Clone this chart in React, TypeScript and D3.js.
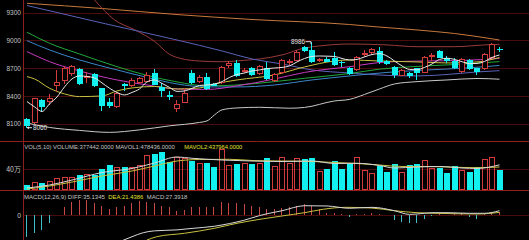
import React from "react";
import * as d3 from "d3";

const W = 529;
const H = 240;

// ---- candle data (64 bars) ----
const opens = [8155,8110,8359,8338,8510,8565,8635,8695,8597,8640,8485,8340,8281,8530,8505,8540,8556,8646,8500,8413,8259,8330,8652,8556,8610,8530,8540,8728,8760,8663,8706,8639,8706,8563,8646,8765,8782,8925,8897,8775,8797,8808,8765,8706,8682,8851,8862,8889,8778,8717,8620,8646,8699,8652,8825,8889,8808,8782,8657,8789,8699,8692,8808,8905];
const highs = [8160,8380,8370,8420,8682,8725,8740,8705,8663,8650,8490,8375,8440,8540,8590,8610,8663,8690,8540,8450,8359,8485,8680,8625,8650,8540,8725,8780,8790,8700,8715,8735,8770,8650,8800,8800,8897,8940,8986,8810,8820,8880,8780,8715,8830,8900,8915,8932,8790,8725,8690,8655,8705,8830,8860,8895,8830,8810,8805,8795,8705,8860,8970,8930];
const lows = [8060,8100,8233,8305,8448,8535,8620,8520,8540,8495,8235,8270,8275,8460,8500,8530,8550,8515,8395,8360,8233,8325,8530,8545,8465,8505,8535,8700,8610,8645,8620,8630,8575,8555,8640,8740,8775,8880,8760,8765,8765,8725,8715,8630,8675,8820,8855,8750,8740,8592,8615,8600,8574,8645,8780,8805,8760,8690,8650,8680,8628,8685,8800,8880];
const closes = [8080,8378,8287,8382,8556,8700,8720,8530,8617,8510,8295,8295,8431,8508,8574,8595,8628,8520,8460,8395,8313,8431,8539,8610,8475,8513,8717,8754,8617,8682,8628,8728,8585,8639,8789,8778,8879,8890,8771,8795,8771,8735,8755,8639,8825,8862,8904,8765,8746,8628,8682,8617,8652,8825,8843,8814,8782,8700,8797,8690,8663,8854,8958,8904];
const volumes = [95,158,139,177,234,242,242,286,305,286,400,476,432,432,444,476,667,686,730,528,634,615,552,509,509,444,775,476,495,520,495,509,604,457,623,520,604,585,604,362,406,552,400,495,623,381,318,457,349,490,349,470,495,566,413,425,330,463,381,349,432,590,629,377.442].map(v => v * 1000);
const macdHist = [-178,-148,-123,-66,-4,68,109,123,123,101,74,47,68,74,96,117,109,101,74,63,35,41,68,68,63,68,109,101,96,90,75,62,52,48,55,68,76,88,74,47,19,14,8,-14,8,8,19,8,-3,-41,-55,-63,-63,-35,-5,5,3,8,14,-19,-30,8,19,27.3918];

// ---- moving-average lines ----
const ma5 = [8341,8284,8235,8316,8391,8499,8585,8617,8612,8596,8542,8485,8440,8413,8440,8477,8553,8574,8537,8494,8451,8456,8483,8515,8520,8531,8556,8601,8633,8649,8671,8682,8696,8703,8709,8725,8768,8805,8827,8832,8830,8827,8805,8789,8795,8822,8848,8857,8832,8778,8725,8687,8684,8709,8746,8795,8808,8795,8770,8749,8752,8773,8816,8843];
const maOrange: [number, number][] = [[0,9399],[10,9343],[20,9278],[30,9225],[43,9171],[46.4,9147],[52,9112],[57,9074],[63,9004]];
const maDarkRed: [number, number][] = [[6,9720],[9,9434],[11.7,9219],[14.4,9112],[17,8990],[19,8850],[20.5,8805],[23,8778],[26,8770],[29,8785],[31,8800],[34,8843],[37,8918],[39,8940],[43,8961],[48,8951],[52,8932],[57,8932],[61,8951],[63,8958]];
const maBlue: [number, number][] = [[0,9375],[10,9187],[20,9004],[26,8886],[30,8800],[34,8746],[38,8682],[43,8649],[48,8623],[52,8617],[56,8633],[60,8660],[63,8674]];
const maGreen: [number, number][] = [[0,9087],[3,8969],[7,8854],[12,8717],[16,8623],[20,8553],[24,8510],[28,8520],[33,8556],[37,8592],[43,8643],[47,8690],[52,8720],[57,8740],[63,8771]];
const maSteel: [number, number][] = [[0,8997],[3,8897],[7,8789],[12,8682],[16,8602],[20,8531],[24,8499],[28,8499],[33,8520],[38,8574],[43,8617],[48,8655],[53,8680],[58,8700],[63,8730]];
const maMagenta: [number, number][] = [[0,8879],[3,8771],[7,8671],[12,8574],[16,8520],[20,8477],[24,8472],[28,8510],[33,8585],[37,8655],[43,8717],[48,8768],[53,8778],[58,8784],[63,8805]];
const maYellow: [number, number][] = [[0,8610],[1,8585],[3,8485],[5,8424],[7,8395],[10,8402],[12,8456],[14,8488],[17,8504],[20,8477],[23,8488],[25,8531],[28,8574],[33,8628],[37,8714],[41,8778],[43,8789],[47,8778],[52,8768],[56,8757],[60,8768],[63,8816]];
const bandLower: [number, number][] = [[0,8111],[3,8063],[7,8031],[11,8010],[15,8037],[19,8080],[23,8117],[24,8133],[25,8198],[26,8252],[28,8273],[31,8280],[35,8270],[37,8278],[41,8348],[43,8365],[45,8418],[47,8477],[49,8531],[52,8556],[56,8574],[60,8590],[63,8582]];

const mavol1: [number, number][] = [[0,38e3],[3,95e3],[6,190e3],[10,333e3],[14,410e3],[17,514e3],[20,629e3],[22,604e3],[26,571e3],[30,552e3],[34,543e3],[38,552e3],[41,505e3],[44,509e3],[47,467e3],[49,419e3],[52,438e3],[55,448e3],[58,419e3],[60,410e3],[63,478436]];
const mavol2: [number, number][] = [[0,19e3],[3,76e3],[6,152e3],[10,267e3],[14,362e3],[17,457e3],[20,552e3],[23,581e3],[27,585e3],[30,562e3],[34,552e3],[38,543e3],[41,524e3],[44,505e3],[47,476e3],[50,448e3],[53,448e3],[56,438e3],[60,425e3],[63,437964]];

const diffLine: [number, number][] = [[12.5,-215],[14,-178],[15.5,-145],[17,-130],[20,-122],[22,-110],[25,-92],[27,-70],[29,-42],[31,-5],[32,10],[34,35],[37,76],[40,74],[43,55],[46,63],[49,35],[51,5],[52,8],[54,19],[56,19],[59,14],[61,14],[63,35.1345]];
const deaLine: [number, number][] = [[16,-205],[17.3,-178],[21,-150],[25,-109],[28,-68],[31.5,-31],[34,-8],[37,19],[39.5,47],[42.5,63],[46,57],[49,35],[52,19],[56,12],[60,8],[63,21.4386]];

const priceTicks = [9300, 9000, 8700, 8400, 8100];

const CYAN = "#12f0f0";
const RED = "#d23c3c";
const AXIS = "#8c1e1e";
const GRID = "#4a0c0c";
const TXT = "#c4c4c4";
const YEL = "#e2e232";

export default function App() {
  const x = d3.scaleLinear().domain([0, 63]).range([27, 499.5]);
  const yP = d3.scaleLinear().domain([8100, 9300]).range([124, 12.5]);
  const yV = d3.scaleLinear().domain([0, 400000]).range([190, 169]);
  const yM = d3.scaleLinear().domain([0, 100]).range([215, 215 - 100 / 8.2]);

  const lineP = d3.line<[number, number]>().x(d => x(d[0])).y(d => yP(d[1])).curve(d3.curveMonotoneX);
  const lineV = d3.line<[number, number]>().x(d => x(d[0])).y(d => yV(d[1])).curve(d3.curveMonotoneX);
  const lineM = d3.line<[number, number]>().x(d => x(d[0])).y(d => yM(d[1])).curve(d3.curveMonotoneX);
  const ma5Path = d3.line<number>().x((_, i) => x(i)).y(d => yP(d)).curve(d3.curveMonotoneX)(ma5) || "";

  const candles = opens.map((o, i) => {
    const c = closes[i];
    const up = c > o;
    const left = Math.round(x(i) - 3);
    const wx = left + 2.5;
    const top = yP(Math.max(o, c));
    const bot = yP(Math.min(o, c));
    const hy = yP(highs[i]);
    const ly = yP(lows[i]);
    if (up) {
      const t = Math.round(top) + 0.5;
      const b = Math.max(Math.round(bot) - 0.5, t + 1);
      return (
        <g key={i}>
          <line x1={wx} x2={wx} y1={hy} y2={t} stroke={RED} />
          <line x1={wx} x2={wx} y1={b} y2={ly} stroke={RED} />
          <rect x={left + 0.5} y={t} width={5} height={b - t} fill="#000" stroke={RED} />
        </g>
      );
    }
    const h = Math.max(bot - top, 1);
    return (
      <g key={i}>
        <line x1={wx} x2={wx} y1={hy} y2={ly} stroke={CYAN} />
        <rect x={left} y={top} width={6} height={h} fill={CYAN} />
      </g>
    );
  });

  const volBars = volumes.map((v, i) => {
    const up = closes[i] > opens[i];
    const left = Math.round(x(i) - 3);
    const t = Math.round(yV(v));
    if (up) {
      return <rect key={i} x={left + 0.5} y={t + 0.5} width={5} height={189 - t} fill="none" stroke={RED} />;
    }
    return <rect key={i} x={left} y={t} width={6} height={190 - t} fill={CYAN} />;
  });

  const macdBars = macdHist.map((v, i) => {
    const cx = Math.round(x(i) - 3) + 2.5;
    return (
      <line key={i} x1={cx} x2={cx} y1={yM(0)} y2={yM(v)} stroke={v >= 0 ? "#c84848" : "#40c0c8"} />
    );
  });

  const lowX = x(0);
  const lowY = yP(8060);
  const hiX = Math.round(x(38) - 3) + 2.5;
  const hiY = yP(8986);

  const font = "'Liberation Sans', Arial, sans-serif";

  return (
    <svg width={W} height={H} style={{ position: "fixed", left: 0, top: 0, background: "#000", display: "block" }} fontFamily={font}>
      <defs>
        <clipPath id="cMain"><rect x={24} y={0} width={W - 24} height={141} /></clipPath>
        <clipPath id="cVol"><rect x={24} y={142} width={W - 24} height={48} /></clipPath>
        <clipPath id="cMacd"><rect x={24} y={191} width={W - 24} height={H - 191} /></clipPath>
      </defs>
      <rect x={0} y={0} width={W} height={H} fill="#000" />

      {/* grid */}
      {priceTicks.map(t => (
        <line key={t} x1={24} x2={W} y1={Math.round(yP(t)) + 0.5} y2={Math.round(yP(t)) + 0.5} stroke={GRID} />
      ))}
      <line x1={24} x2={W} y1={Math.round(yV(400000)) + 0.5} y2={Math.round(yV(400000)) + 0.5} stroke={GRID} />
      <line x1={24} x2={W} y1={215.5} y2={215.5} stroke={GRID} />

      {/* axes */}
      <line x1={23.5} x2={23.5} y1={0} y2={H} stroke={AXIS} />
      <line x1={0} x2={W} y1={141.5} y2={141.5} stroke={AXIS} />
      <line x1={0} x2={W} y1={190.5} y2={190.5} stroke={AXIS} />

      {/* price labels */}
      {priceTicks.map(t => (
        <text key={t} x={21} y={yP(t) + 2.4} fontSize={6.8} fill={TXT} textAnchor="end" textLength={14.5} lengthAdjust="spacingAndGlyphs">{t}</text>
      ))}
      <text x={21} y={172.4} fontSize={7} fill={TXT} textAnchor="end" fontFamily="'Noto Sans CJK SC', sans-serif">40万</text>
      <text x={21} y={217.5} fontSize={6.8} fill={TXT} textAnchor="end">0</text>

      {/* main panel */}
      <g clipPath="url(#cMain)" fill="none" strokeWidth={1}>
        <path d={lineP(maOrange) || ""} stroke="#c8783a" />
        <path d={lineP(maDarkRed) || ""} stroke="#9a3a3a" />
        <path d={lineP(maBlue) || ""} stroke="#5a62b8" />
        <path d={lineP(bandLower) || ""} stroke="#c8c8c8" />
        <path d={lineP(maGreen) || ""} stroke="#22a83a" />
        <path d={lineP(maSteel) || ""} stroke="#3a86c8" />
        <path d={lineP(maMagenta) || ""} stroke="#c83ac0" />
        <path d={lineP(maYellow) || ""} stroke="#c8c040" />
        <g shapeRendering="crispEdges">{candles}</g>
        <path d={ma5Path} stroke="#e8e8e8" />
        {/* low / high markers */}
        <line x1={lowX + 5} x2={lowX} y1={lowY} y2={lowY} stroke="#e0e0e0" />
        <path d={`M${lowX},${lowY} l2,-1.5 l0,3 z`} fill="#e0e0e0" />
        <text x={lowX + 6} y={lowY + 2.4} fontSize={6.8} fill="#e6e6e6" stroke="none" textLength={14} lengthAdjust="spacingAndGlyphs">8060</text>
        <line x1={hiX - 6} x2={hiX - 0.5} y1={hiY} y2={hiY} stroke="#e0e0e0" />
        <line x1={hiX - 0.5} x2={hiX - 0.5} y1={hiY} y2={hiY + 2.5} stroke="#e0e0e0" />
        <text x={hiX - 6.5} y={hiY + 2.4} fontSize={6.8} fill="#e6e6e6" stroke="none" textAnchor="end" textLength={14} lengthAdjust="spacingAndGlyphs">8986</text>
      </g>

      {/* volume panel */}
      <text x={24.3} y={149} fontSize={5.9} fill={TXT} textLength={150.5} lengthAdjust="spacingAndGlyphs">VOL(5,10) VOLUME:377442.0000 MAVOL1:478436.0000</text>
      <text x={184.3} y={149} fontSize={5.9} fill={YEL} textLength={58} lengthAdjust="spacingAndGlyphs">MAVOL2:437964.0000</text>
      <g clipPath="url(#cVol)">
        <g shapeRendering="crispEdges">{volBars}</g>
        <path d={lineV(mavol2) || ""} stroke="#c8c040" fill="none" />
        <path d={lineV(mavol1) || ""} stroke="#d8d8d8" fill="none" />
      </g>

      {/* macd panel */}
      <text x={24} y={198.5} fontSize={5.9} fill={TXT} textLength={81} lengthAdjust="spacingAndGlyphs">MACD(12,26,9) DIFF:35.1345</text>
      <text x={108.3} y={198.5} fontSize={5.9} fill={YEL} textLength={35} lengthAdjust="spacingAndGlyphs">DEA:21.4386</text>
      <text x={146.7} y={198.5} fontSize={5.9} fill={TXT} textLength={40.6} lengthAdjust="spacingAndGlyphs">MACD:27.3918</text>
      <g clipPath="url(#cMacd)">
        <g shapeRendering="crispEdges">{macdBars}</g>
        <path d={lineM(deaLine) || ""} stroke="#c8c040" fill="none" />
        <path d={lineM(diffLine) || ""} stroke="#d8d8d8" fill="none" />
      </g>
    </svg>
  );
}
